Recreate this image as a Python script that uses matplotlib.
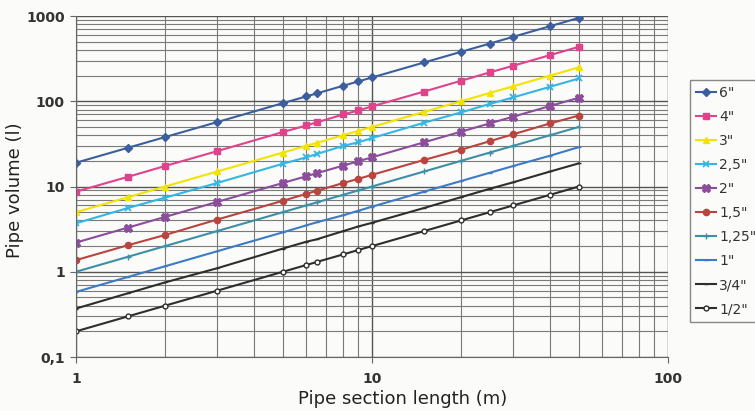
import matplotlib
matplotlib.use("Agg")
import matplotlib.pyplot as plt
from matplotlib.ticker import FixedLocator, NullFormatter, LogLocator

lengths = [1, 1.5, 2, 3, 5, 6, 6.5, 8, 9, 10, 15, 20, 25, 30, 40, 50]

v_6 = [19, 28.5, 38, 57, 95, 114, 123.5, 152, 171, 190, 285, 380, 475, 570, 760, 950]
v_4 = [8.7, 13, 17.4, 26, 43.5, 52, 56.5, 70, 78, 87, 130, 174, 218, 261, 348, 435]
v_3 = [5, 7.5, 10, 15, 25, 30, 32.5, 40, 45, 50, 75, 100, 125, 150, 200, 250]
v_25 = [3.7, 5.6, 7.4, 11, 18.5, 22, 24, 30, 33, 37, 56, 74, 93, 111, 148, 185]
v_2 = [2.2, 3.3, 4.4, 6.6, 11, 13.2, 14.3, 17.6, 19.8, 22, 33, 44, 55, 66, 88, 110]
v_15 = [1.37, 2.05, 2.7, 4.1, 6.8, 8.2, 8.9, 11, 12.3, 13.7, 20.5, 27, 34, 41, 55, 68]
v_125 = [1, 1.5, 2, 3, 5, 6, 6.5, 8, 9, 10, 15, 20, 25, 30, 40, 50]
v_1 = [0.58, 0.87, 1.16, 1.74, 2.9, 3.5, 3.8, 4.6, 5.2, 5.8, 8.7, 11.6, 14.5, 17.4, 23, 29]
v_34 = [0.37, 0.56, 0.75, 1.1, 1.87, 2.25, 2.4, 3, 3.4, 3.75, 5.6, 7.5, 9.4, 11.2, 15, 18.7]
v_12 = [0.2, 0.3, 0.4, 0.6, 1, 1.2, 1.3, 1.6, 1.8, 2, 3, 4, 5, 6, 8, 10]

series_labels = ['6"', '4"', '3"', '2,5"', '2"', '1,5"', '1,25"', '1"', '3/4"', '1/2"']
series_values = [v_6, v_4, v_3, v_25, v_2, v_15, v_125, v_1, v_34, v_12]

y_ticks = [0.1, 1, 10, 100, 1000]
y_ticklabels = ["0,1", "1", "10", "100", "1000"]
x_ticks = [1, 10, 100]
x_ticklabels = ["1", "10", "100"]

styles = [
    dict(color="#3b5f9e", marker="D", ms=4),
    dict(color="#e0428c", marker="s", ms=4.5),
    dict(color="#f2e300", marker="^", ms=5),
    dict(color="#33b6e6", marker="x", ms=4.5, mew=1.3),
    dict(color="#8b4d9c", marker="X", ms=5.5),
    dict(color="#b8453f", marker="o", ms=4.5),
    dict(color="#3d8fa6", marker="+", ms=5, mew=1),
    dict(color="#3c7bc6", marker="_", ms=3, mew=1),
    dict(color="#2e2e2e", marker="_", ms=3, mew=1),
    dict(color="#2e2e2e", marker="o", ms=3.5, mfc="white", mew=1),
]

fig = plt.figure(figsize=(7.55, 4.11), dpi=100)
fig.patch.set_facecolor("#fbfbfa")
ax = fig.add_axes([76/755, 1-357/411, (668-76)/755, (357-16)/411])
ax.set_facecolor("#fbfbfa")

lines = []
for lab, vals, st in zip(series_labels, series_values, styles):
    ln, = ax.plot(lengths, vals, lw=1.5, label=lab, **st)
    lines.append(ln)

ax.set_xscale("log")
ax.set_yscale("log")
ax.set_xlim(1, 100)
ax.set_ylim(0.1, 1000)

ax.xaxis.set_major_locator(FixedLocator(x_ticks))
ax.set_xticklabels(x_ticklabels)
ax.yaxis.set_major_locator(FixedLocator(y_ticks))
ax.set_yticklabels(y_ticklabels)
ax.xaxis.set_minor_locator(LogLocator(base=10, subs=range(2, 10)))
ax.yaxis.set_minor_locator(LogLocator(base=10, subs=range(2, 10)))
ax.xaxis.set_minor_formatter(NullFormatter())
ax.yaxis.set_minor_formatter(NullFormatter())

ax.grid(True, which="major", color="#555555", lw=1.0)
ax.grid(True, which="minor", color="#7a7a7a", lw=0.8)
ax.set_axisbelow(True)

for s in ["top", "right"]:
    ax.spines[s].set_visible(False)
for s in ["left", "bottom"]:
    ax.spines[s].set_color("#666666")

ax.tick_params(axis="both", which="major", labelsize=10, length=4, color="#666666")
ax.tick_params(axis="y", which="major", pad=4)
ax.tick_params(axis="x", which="major", pad=7)
ax.tick_params(axis="both", which="minor", length=0)
for t in ax.get_xticklabels() + ax.get_yticklabels():
    t.set_fontweight("bold")
    t.set_color("#333333")

fig.text(403/755, 1-399/411, "Pipe section length (m)", fontsize=13, color="#222222",
         ha="center", va="center")
fig.text(15/755, 1-190/411, "Pipe volume (l)", fontsize=13, color="#222222",
         ha="center", va="center", rotation=90)

leg = fig.legend(handles=lines, loc="upper left", bbox_to_anchor=(690/755, 1-80/411),
                 fontsize=10, frameon=True, fancybox=False, edgecolor="#888888",
                 facecolor="#fbfbfa", framealpha=1, handlelength=1.4, handletextpad=0.25,
                 labelspacing=0.72, borderpad=0.45, borderaxespad=0)
leg.get_frame().set_linewidth(1.0)
for t in leg.get_texts():
    t.set_color("#333333")

fig.savefig("out.png", dpi=100, facecolor=fig.get_facecolor())
